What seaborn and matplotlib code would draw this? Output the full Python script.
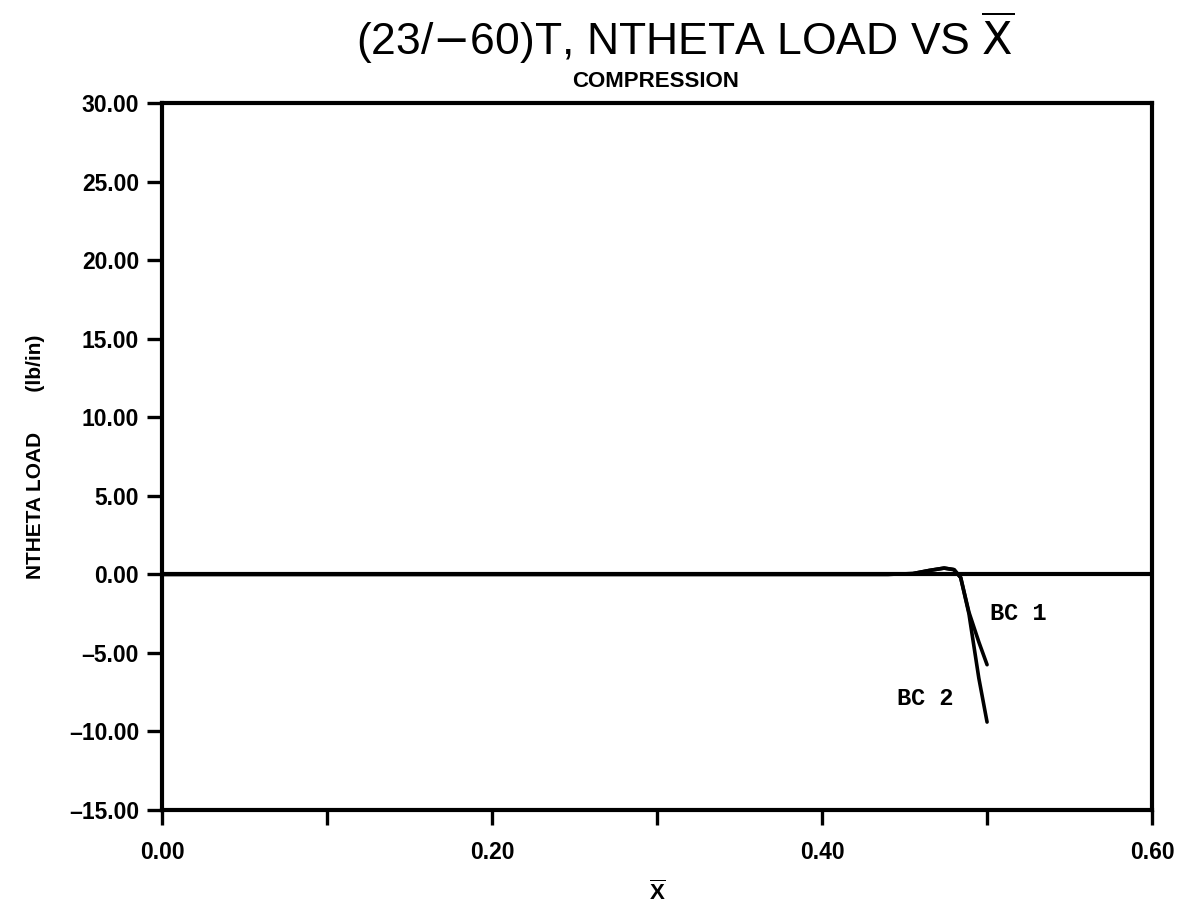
import numpy as np
import pandas as pd
import matplotlib
matplotlib.use("Agg")
import matplotlib.pyplot as plt
import seaborn as sns

# Axial position along the shell (normalized) and hoop load for two boundary conditions
x_bar = [0.0, 0.1, 0.2, 0.3, 0.4, 0.44, 0.455, 0.465, 0.474, 0.48, 0.484, 0.489, 0.495, 0.5]
bc1_load = [0.0, 0.0, 0.0, 0.0, 0.0, 0.0, 0.05, 0.25, 0.4, 0.3, -0.2, -2.4, -4.3, -5.75]
bc2_load = [0.0, 0.0, 0.0, 0.0, 0.0, 0.0, 0.05, 0.25, 0.4, 0.3, -0.2, -2.5, -6.6, -9.4]
series_names = ["BC 1", "BC 2"]
zero_ref = 0.0

y_ticks = [-15, -10, -5, 0, 5, 10, 15, 20, 25, 30]
x_ticks = [0.0, 0.1, 0.2, 0.3, 0.4, 0.5, 0.6]
x_tick_labels = ["0.00", "", "0.20", "", "0.40", "", "0.60"]

df = pd.DataFrame({
    "x": x_bar * 2,
    "load": bc1_load + bc2_load,
    "bc": [series_names[0]] * len(x_bar) + [series_names[1]] * len(x_bar),
})

sns.set_style("ticks")
plt.rcParams["font.family"] = ["Liberation Sans Narrow", "Liberation Sans", "DejaVu Sans"]
plt.rcParams["mathtext.fontset"] = "custom"
plt.rcParams["mathtext.rm"] = "Liberation Sans Narrow"
plt.rcParams["mathtext.bf"] = "Liberation Sans:bold"

fig = plt.figure(figsize=(11.81, 9.07), dpi=100)
ax = fig.add_axes([0.1372, 0.1069, 0.8383, 0.7795])

sns.lineplot(data=df, x="x", y="load", hue="bc", palette=["black", "black"],
             linewidth=2.6, legend=False, ax=ax, sort=False)
ax.axhline(zero_ref, color="black", linewidth=3.0, zorder=1)

ax.set_xlim(0, 0.6)
ax.set_ylim(-15, 30)
ax.set_xticks(x_ticks)
ax.set_xticklabels(x_tick_labels)
ax.set_yticks(y_ticks)
ax.set_yticklabels([f"{v:.2f}".replace("-", "\u2013") for v in y_ticks])

for side in ["left", "right", "top", "bottom"]:
    ax.spines[side].set_visible(True)
    ax.spines[side].set_linewidth(3.0)
    ax.spines[side].set_color("black")

ax.tick_params(axis="both", direction="out", length=10.5, width=2.4, color="black",
               labelcolor="black")
ax.tick_params(axis="y", labelsize=16.5, pad=6)
ax.tick_params(axis="x", labelsize=16.5, pad=12)
for lab in ax.get_xticklabels() + ax.get_yticklabels():
    lab.set_fontweight("bold")
    lab.set_family(["Liberation Sans"])

ax.set_xlabel(r"$\mathbf{\overline{X}}$", fontsize=16, color="black", labelpad=12)
ax.set_ylabel("NTHETA LOAD       (lb/in)", fontsize=15, fontweight="bold",
              color="black", family=["Liberation Sans"])
ax.yaxis.set_label_coords(-0.118, 0.5)

# Curve labels
ax.text(0.502, -2.46, series_names[0], fontsize=17, family=["Liberation Mono"],
        fontweight="bold", ha="left", va="center", color="black")
ax.text(0.4794, -7.88, series_names[1], fontsize=17, family=["Liberation Mono"],
        fontweight="bold", ha="right", va="center", color="black")

fig.text(0.58, 0.9394, r"(23/$-$60)T, NTHETA LOAD VS $\overline{\mathrm{X}}$",
         fontsize=32, ha="center", va="baseline", color="black")
fig.text(0.5555, 0.9102, "COMPRESSION", fontsize=16, fontweight="heavy",
         ha="center", va="center", color="black",
         family=["Liberation Sans Narrow", "Liberation Sans"])

fig.savefig("out.png", dpi=100, facecolor="white")
